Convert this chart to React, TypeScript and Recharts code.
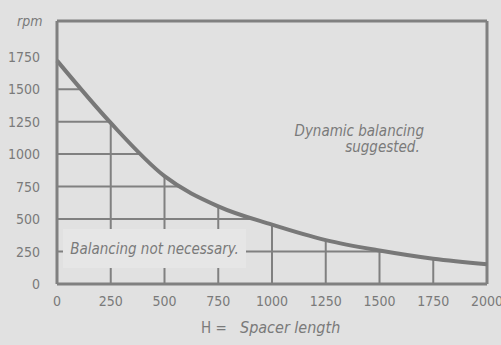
import React from 'react';
import {
  ComposedChart, Line, Area, XAxis, YAxis, CartesianGrid, ReferenceLine,
} from 'recharts';

// Spacer length H (mm) against maximum rpm without dynamic balancing
const spacerLength = [0, 250, 500, 750, 1000, 1250, 1500, 1750, 2000];
const maxRpm = [1720, 1240, 830, 598, 457, 338, 258, 195, 152];

const xTicks = [0, 250, 500, 750, 1000, 1250, 1500, 1750, 2000];
const yTicks = [0, 250, 500, 750, 1000, 1250, 1500, 1750];
const Y_TOP = 2025;

const BG = '#e1e1e1';
const INK = '#808080';
const TEXT = '#7a7a7a';
const FONT = "'DejaVu Sans Condensed', 'DejaVu Sans', sans-serif";

const data = spacerLength.map((h, i) => ({
  h,
  rpm: maxRpm[i],
  // band from the curve up to the frame, painted over the grid
  above: [maxRpm[i], Y_TOP],
}));

export default function App() {
  return (
    <div style={{ position: 'absolute', left: 0, top: 0, width: 501, height: 345, background: BG, fontFamily: FONT }}>
      <ComposedChart
        width={501}
        height={345}
        data={data}
        margin={{ top: 21, right: 14, bottom: 31, left: 0 }}
      >
        <CartesianGrid stroke={INK} strokeWidth={2} />
        <XAxis
          dataKey="h"
          type="number"
          domain={[0, 2000]}
          ticks={xTicks}
          height={30}
          axisLine={{ stroke: INK, strokeWidth: 3 }}
          tickLine={false}
          tick={{ fill: TEXT, fontSize: 14, fontFamily: FONT }}
          tickMargin={6}
        />
        <YAxis
          type="number"
          domain={[0, Y_TOP]}
          ticks={yTicks}
          width={57}
          axisLine={{ stroke: INK, strokeWidth: 3 }}
          tickLine={false}
          tick={{ fill: TEXT, fontSize: 14, fontFamily: FONT }}
          tickMargin={11}
        />
        <Area
          dataKey="above"
          type="monotone"
          fill={BG}
          fillOpacity={1}
          stroke="none"
          isAnimationActive={false}
        />
        <ReferenceLine y={Y_TOP} stroke={INK} strokeWidth={3} />
        <ReferenceLine x={2000} stroke={INK} strokeWidth={3} />
        <Line
          dataKey="rpm"
          type="monotone"
          stroke="#787878"
          strokeWidth={4}
          dot={false}
          isAnimationActive={false}
        />
      </ComposedChart>

      <div style={{ position: 'absolute', left: 17, top: 13, fontSize: 14, fontStyle: 'italic', color: TEXT }}>rpm</div>

      <div style={{
        position: 'absolute', left: 63, top: 229, width: 183, height: 39,
        background: '#e6e6e6', color: TEXT, fontSize: 15, fontStyle: 'italic',
        display: 'flex', alignItems: 'center', justifyContent: 'center',
      }}>
        Balancing not necessary.
      </div>

      <div style={{
        position: 'absolute', right: 501 - 424, top: 123, textAlign: 'right',
        color: TEXT, fontSize: 15, fontStyle: 'italic', lineHeight: '16px',
      }}>
        Dynamic balancing<br />suggested.&nbsp;
      </div>

      <div style={{ position: 'absolute', left: 201, top: 319, fontSize: 15, color: TEXT }}>H =</div>
      <div style={{ position: 'absolute', left: 240, top: 318, fontSize: 16, color: TEXT, fontStyle: 'italic' }}>
        Spacer length
      </div>
    </div>
  );
}
